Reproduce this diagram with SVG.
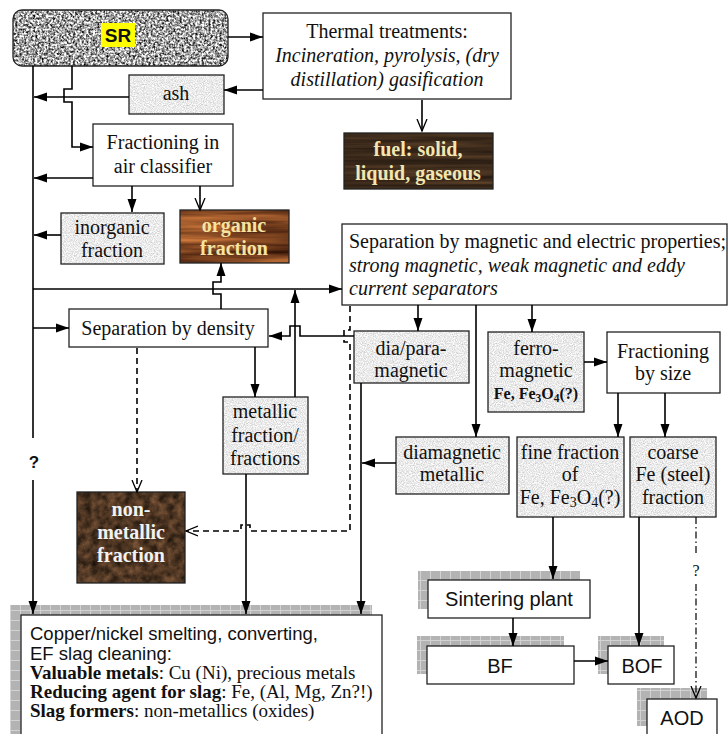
<svg xmlns="http://www.w3.org/2000/svg" width="728" height="734" viewBox="0 0 728 734">
<style>
.box{fill:#fff;stroke:#222;stroke-width:1.3}
.frame{fill:none;stroke:#222;stroke-width:1.3}
.ln{fill:none;stroke:#000;stroke-width:1.6}
.dash{stroke-dasharray:6 4}
.dashdot{stroke-dasharray:7 3 1.5 3}
.t{font-family:"Liberation Serif","Times New Roman",serif;font-size:20px;fill:#111;text-anchor:middle}
.ti{font-style:italic}
.tb{font-weight:bold}
.ls{text-anchor:start}
.cp{font-size:19px}
.s{font-family:"Liberation Sans",Arial,sans-serif;fill:#111}
.shadow{fill:url(#grid)}
.paper{filter:url(#fPaper);fill:#eee}
</style>
<defs>
<filter id="fGranite" x="0" y="0" width="1" height="1" color-interpolation-filters="sRGB">
<feTurbulence type="fractalNoise" baseFrequency="0.45" numOctaves="3" seed="3"/>
<feColorMatrix type="matrix" values="2.0 0 0 0 -0.36  2.0 0 0 0 -0.36  2.0 0 0 0 -0.36  0 0 0 0 1"/>
<feComposite in2="SourceGraphic" operator="in"/>
</filter>
<filter id="fPaper" x="0" y="0" width="1" height="1" color-interpolation-filters="sRGB">
<feTurbulence type="fractalNoise" baseFrequency="0.9" numOctaves="2" seed="7"/>
<feColorMatrix type="matrix" values="0.4 0 0 0 0.72  0.4 0 0 0 0.72  0.4 0 0 0 0.72  0 0 0 0 1"/>
<feComposite in2="SourceGraphic" operator="in"/>
</filter>
<filter id="fWoodDark" x="0" y="0" width="1" height="1" color-interpolation-filters="sRGB">
<feTurbulence type="fractalNoise" baseFrequency="0.006 0.2" numOctaves="3" seed="5"/>
<feColorMatrix type="matrix" values="0.35 0 0 0 0.06  0.25 0 0 0 0.04  0.15 0 0 0 0.03  0 0 0 0 1"/>
<feComposite in2="SourceGraphic" operator="in"/>
</filter>
<filter id="fWoodOrange" x="0" y="0" width="1" height="1" color-interpolation-filters="sRGB">
<feTurbulence type="fractalNoise" baseFrequency="0.008 0.14" numOctaves="3" seed="11"/>
<feColorMatrix type="matrix" values="0.85 0 0 0 0.05  0.55 0 0 0 -0.02  0.28 0 0 0 -0.02  0 0 0 0 1"/>
<feComposite in2="SourceGraphic" operator="in"/>
</filter>
<filter id="fEarth" x="0" y="0" width="1" height="1" color-interpolation-filters="sRGB">
<feTurbulence type="fractalNoise" baseFrequency="0.12" numOctaves="4" seed="9"/>
<feColorMatrix type="matrix" values="0.55 0 0 0 0.03  0.38 0 0 0 0.02  0.26 0 0 0 0.005  0 0 0 0 1"/>
<feComposite in2="SourceGraphic" operator="in"/>
</filter>
<pattern id="grid" width="10" height="10" patternUnits="userSpaceOnUse">
<rect width="10" height="10" fill="#b3b3b3"/>
<path d="M0,0.5H10M0.5,0V10" stroke="#d2d2d2" stroke-width="1"/>
</pattern>
<marker id="ah" markerWidth="14" markerHeight="10" refX="13" refY="5" orient="auto" markerUnits="userSpaceOnUse">
<path d="M0,0.5 L13,5 L0,9.5 z" fill="#000"/>
</marker>
<marker id="ov" markerWidth="14" markerHeight="12" refX="12" refY="6" orient="auto" markerUnits="userSpaceOnUse">
<path d="M0,1 L12,6 L0,11" fill="none" stroke="#000" stroke-width="1.3"/>
</marker>
</defs>

<rect width="728" height="734" fill="#fff"/>

<!-- Nodes -->
<g id="sr">
<rect x="13" y="10" width="215" height="56" rx="9" fill="#999" filter="url(#fGranite)"/>
<rect x="13" y="10" width="215" height="56" rx="9" class="frame"/>
<rect x="101" y="23" width="34" height="24" fill="#ffff00"/>
<text x="118" y="42" class="s" font-size="19" font-weight="bold" text-anchor="middle">SR</text>
</g>

<g id="thermal">
<rect x="263" y="13" width="248" height="86" class="box"/>
<text class="t" x="387" y="38">Thermal treatments:</text>
<text class="t ti" x="387" y="62">Incineration, pyrolysis, (dry</text>
<text class="t ti" x="387" y="86">distillation) gasification</text>
</g>

<g id="fuel">
<rect x="344" y="133" width="149" height="56" fill="#3b2a1c" filter="url(#fWoodDark)"/>
<rect x="344" y="133" width="149" height="56" class="frame"/>
<text class="t tb" x="418" y="156" style="fill:#f3e6b0">fuel: solid,</text>
<text class="t tb" x="418" y="180" style="fill:#f3e6b0">liquid, gaseous</text>
</g>

<g id="ash">
<rect x="129" y="75" width="95" height="39" class="paper"/>
<rect x="129" y="75" width="95" height="39" class="frame"/>
<text class="t" x="176" y="100">ash</text>
</g>

<g id="air-classifier">
<rect x="93" y="124" width="140" height="62" class="box"/>
<text class="t" x="163" y="149">Fractioning in</text>
<text class="t" x="163" y="173">air classifier</text>
</g>

<g id="inorganic">
<rect x="61" y="213" width="103" height="51" class="paper"/>
<rect x="61" y="213" width="103" height="51" class="frame"/>
<text class="t" x="112" y="234">inorganic</text>
<text class="t" x="112" y="257">fraction</text>
</g>

<g id="organic">
<rect x="180" y="210" width="109" height="53" fill="#8b4a20" filter="url(#fWoodOrange)"/>
<rect x="180" y="210" width="109" height="53" class="frame"/>
<text class="t tb" x="234" y="232" style="fill:#f6e3a0">organic</text>
<text class="t tb" x="234" y="255" style="fill:#f6e3a0">fraction</text>
</g>

<g id="magnetic-electric">
<rect x="342" y="224" width="385" height="81" class="box"/>
<text class="t ls" x="349" y="248">Separation by magnetic and electric properties;</text>
<text class="t ti ls" x="349" y="272">strong magnetic, weak magnetic and eddy</text>
<text class="t ti ls" x="349" y="295">current separators</text>
</g>

<g id="density">
<rect x="69" y="309" width="199" height="38" class="box"/>
<text class="t" x="168" y="335">Separation by density</text>
</g>

<g id="dia-para">
<rect x="354" y="331" width="115" height="52" class="paper"/>
<rect x="354" y="331" width="115" height="52" class="frame"/>
<text class="t" x="411" y="355">dia/para-</text>
<text class="t" x="411" y="377">magnetic</text>
</g>

<g id="ferro">
<rect x="488" y="332" width="96" height="80" class="paper"/>
<rect x="488" y="332" width="96" height="80" class="frame"/>
<text class="t" x="536" y="355">ferro-</text>
<text class="t" x="536" y="377">magnetic</text>
<text class="t tb" x="536" y="399" style="font-size:16px">Fe, Fe<tspan font-size="11.5" dy="3">3</tspan><tspan dy="-3">O</tspan><tspan font-size="11.5" dy="3">4</tspan><tspan dy="-3">(?)</tspan></text>
</g>

<g id="size">
<rect x="607" y="332" width="113" height="61" class="box"/>
<text class="t" x="663" y="358">Fractioning</text>
<text class="t" x="663" y="380">by size</text>
</g>

<g id="metallic">
<rect x="223" y="397" width="85" height="77" class="paper"/>
<rect x="223" y="397" width="85" height="77" class="frame"/>
<text class="t" x="265" y="418">metallic</text>
<text class="t" x="265" y="442">fraction/</text>
<text class="t" x="265" y="465">fractions</text>
</g>

<g id="diamagnetic">
<rect x="396" y="437" width="113" height="57" class="paper"/>
<rect x="396" y="437" width="113" height="57" class="frame"/>
<text class="t" x="452" y="459">diamagnetic</text>
<text class="t" x="452" y="481">metallic</text>
</g>

<g id="fine">
<rect x="517" y="437" width="107" height="80" class="paper"/>
<rect x="517" y="437" width="107" height="80" class="frame"/>
<text class="t" x="570" y="459">fine fraction</text>
<text class="t" x="570" y="481">of</text>
<text class="t" x="570" y="504">Fe, Fe<tspan font-size="14" dy="3">3</tspan><tspan dy="-3">O</tspan><tspan font-size="14" dy="3">4</tspan><tspan dy="-3">(?)</tspan></text>
</g>

<g id="coarse">
<rect x="630" y="437" width="86" height="80" class="paper"/>
<rect x="630" y="437" width="86" height="80" class="frame"/>
<text class="t" x="673" y="459">coarse</text>
<text class="t" x="673" y="481">Fe (steel)</text>
<text class="t" x="673" y="504">fraction</text>
</g>

<g id="non-metallic">
<rect x="77" y="492" width="108" height="91" fill="#4a3020" filter="url(#fEarth)"/>
<rect x="77" y="492" width="108" height="91" class="frame"/>
<text class="t tb" x="131" y="516" style="fill:#f2f2f2">non-</text>
<text class="t tb" x="131" y="539" style="fill:#f2f2f2">metallic</text>
<text class="t tb" x="131" y="562" style="fill:#f2f2f2">fraction</text>
</g>

<g id="sintering">
<rect x="418" y="571" width="162" height="38" class="shadow"/>
<rect x="428" y="580" width="162" height="38" class="box"/>
<text class="s" x="509" y="606" font-size="20" text-anchor="middle">Sintering plant</text>
</g>

<g id="bf">
<rect x="417" y="636" width="147" height="38" class="shadow"/>
<rect x="427" y="646" width="147" height="38" class="box"/>
<text class="s" x="500" y="673" font-size="20" text-anchor="middle">BF</text>
</g>

<g id="bof">
<rect x="598" y="636" width="66" height="38" class="shadow"/>
<rect x="608" y="646" width="66" height="38" class="box"/>
<text class="s" x="642" y="673" font-size="20" text-anchor="middle">BOF</text>
</g>

<g id="aod">
<rect x="637" y="688" width="70" height="38" class="shadow"/>
<rect x="647" y="699" width="70" height="38" class="box"/>
<text class="s" x="682" y="725" font-size="20" text-anchor="middle">AOD</text>
</g>

<g id="copper">
<rect x="10" y="605" width="362" height="140" class="shadow"/>
<rect x="21" y="615" width="361" height="130" class="box"/>
<text class="s" x="30" y="640" font-size="18.5">Copper/nickel smelting, converting,</text>
<text class="s" x="30" y="660" font-size="18.5">EF slag cleaning:</text>
<text class="t ls cp" x="30" y="679"><tspan font-weight="bold">Valuable metals</tspan>: Cu (Ni), precious metals</text>
<text class="t ls cp" x="30" y="698"><tspan font-weight="bold">Reducing agent for slag</tspan>: Fe, (Al, Mg, Zn?!)</text>
<text class="t ls cp" x="30" y="717"><tspan font-weight="bold">Slag formers</tspan>: non-metallics (oxides)</text>
</g>

<!-- Connectors -->
<g id="connectors">
<path class="ln" d="M228,37 H263" marker-end="url(#ah)"/>
<path class="ln" d="M263,90 H224" marker-end="url(#ah)"/>
<path class="ln" d="M129,97 H34" marker-end="url(#ah)"/>
<path class="ln" d="M72,66 V89 H64 V102 H72 V147 H93" marker-end="url(#ah)"/>
<path class="ln" d="M33,66 V438"/>
<path class="ln" d="M33,480 V614" marker-end="url(#ah)"/>
<text class="s" x="34" y="468" font-size="17" font-weight="bold" text-anchor="middle">?</text>
<path class="ln" d="M422,100 V131" marker-end="url(#ov)"/>
<path class="ln" d="M93,178 H34" marker-end="url(#ah)"/>
<path class="ln" d="M132,186 V212" marker-end="url(#ah)"/>
<path class="ln" d="M200,186 V210" marker-end="url(#ov)"/>
<path class="ln" d="M61,235 H34" marker-end="url(#ah)"/>
<path class="ln" d="M33,289 H342" marker-end="url(#ah)"/>
<path class="ln" d="M221,309 V294 H213 V282 H221 V263" marker-end="url(#ah)"/>
<path class="ln" d="M295,397 V290" marker-end="url(#ah)"/>
<path class="ln" d="M33,328 H69" marker-end="url(#ah)"/>
<path class="ln" d="M354,336 H300 V326 H290 V336 H269" marker-end="url(#ah)"/>
<path class="ln dash" d="M137,348 V492" marker-end="url(#ov)"/>
<path class="ln" d="M255,347 V397" marker-end="url(#ah)"/>
<path class="ln dash" d="M350,306 V330 H344 V342 H350 V531 H250 V525 H241 V531 H186" marker-end="url(#ov)"/>
<path class="ln" d="M246,474 V614" marker-end="url(#ah)"/>
<path class="ln" d="M361,383 V614" marker-end="url(#ah)"/>
<path class="ln" d="M418,305 V331" marker-end="url(#ah)"/>
<path class="ln" d="M476,305 V437" marker-end="url(#ah)"/>
<path class="ln" d="M532,305 V332" marker-end="url(#ah)"/>
<path class="ln" d="M396,463 H362" marker-end="url(#ah)"/>
<path class="ln" d="M584,362 H607" marker-end="url(#ah)"/>
<path class="ln" d="M618,393 V437" marker-end="url(#ah)"/>
<path class="ln" d="M665,393 V437" marker-end="url(#ah)"/>
<path class="ln" d="M553,517 V579" marker-end="url(#ah)"/>
<path class="ln" d="M513,618 V646" marker-end="url(#ah)"/>
<path class="ln" d="M574,661 H608" marker-end="url(#ah)"/>
<path class="ln" d="M639,517 V646" marker-end="url(#ah)"/>
<path class="ln dashdot" d="M696,517 V556" style="stroke-width:1.2"/>
<path class="ln dashdot" d="M696,584 V698" style="stroke-width:1.2" marker-end="url(#ov)"/>
<text class="t" x="696" y="576" style="font-size:16px">?</text>
</g>
</svg>
